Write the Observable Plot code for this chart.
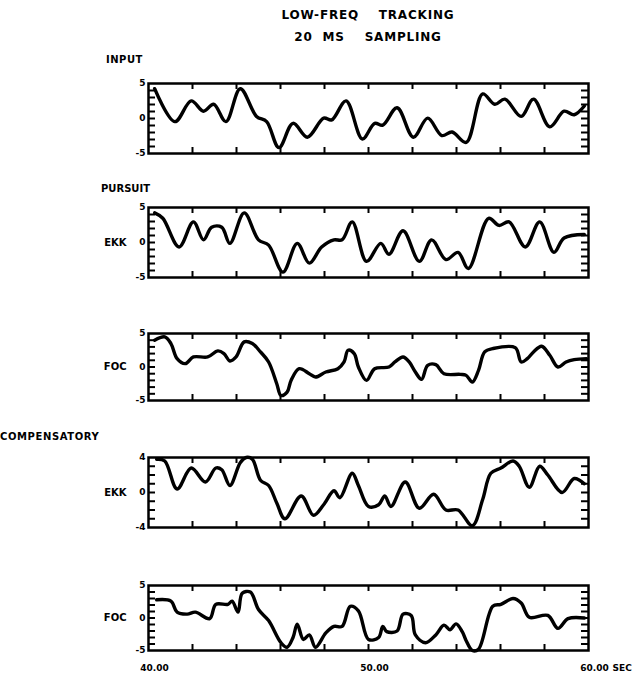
<!DOCTYPE html>
<html><head><meta charset="utf-8">
<script src="https://cdn.jsdelivr.net/npm/d3@7"></script>
<script src="https://cdn.jsdelivr.net/npm/@observablehq/plot@0.6"></script>
<style>
body{margin:0;background:#fff;}
#wrap{position:relative;width:636px;height:679px;font-family:"DejaVu Sans",sans-serif;font-weight:bold;color:#000;}
.t{position:absolute;white-space:pre;line-height:1;}
.p{position:absolute;left:0;}
</style></head><body><div id="wrap"></div>
<script>
const titleLines = ["LOW-FREQ    TRACKING", "20  MS    SAMPLING"];
const groupLabels = ["INPUT", "PURSUIT", "COMPENSATORY"];
const panelLabels = ["", "EKK", "FOC", "EKK", "FOC"];
const yLimits = [5, 5, 5, 4, 5];
const xLabelTicks = [40, 50, 60];
const xInnerTicks = [42, 44, 46, 48, 50, 52, 54, 56, 58];
const xUnit = "SEC";

const inputSeries = [[40.28,4.26],[41.20,-0.45],[41.94,2.52],[42.50,1.04],[42.96,2.03],[43.52,-0.45],[44.17,4.26],[44.91,0.30],[45.37,-0.45],[45.93,-4.16],[46.57,-0.69],[47.22,-2.67],[47.96,0.05],[48.33,-0.20],[48.98,2.52],[49.72,-2.92],[50.28,-0.69],[50.65,-0.94],[51.30,1.53],[52.04,-2.67],[52.69,0.05],[53.33,-2.43],[53.80,-1.93],[54.44,-3.42],[55.19,3.51],[55.74,2.03],[56.20,2.77],[56.94,0.30],[57.50,2.77],[58.24,-1.19],[58.89,1.04],[59.35,0.54],[59.81,1.78]];

const pursuitErr = [[40.28,4.23],[40.65,3.46],[41.39,-0.64],[42.04,2.95],[42.50,0.38],[42.87,2.18],[43.33,2.18],[43.70,-0.13],[44.35,4.23],[45.00,0.38],[45.46,-0.38],[46.11,-4.23],[46.76,-0.13],[47.31,-2.95],[47.87,-0.64],[48.43,0.38],[48.80,0.38],[49.26,2.95],[49.91,-2.69],[50.56,-0.13],[50.93,-1.67],[51.57,1.67],[52.31,-2.69],[52.87,0.38],[53.52,-2.44],[54.07,-1.41],[54.54,-3.72],[55.46,3.46],[55.93,2.44],[56.39,2.95],[57.13,-0.64],[57.78,2.95],[58.43,-1.41],[58.89,0.64],[59.81,1.15]];

const pursuitFoc = [[40.28,4.0],[40.74,4.5],[41.02,3.5],[41.30,1.25],[41.67,0.5],[42.04,1.5],[42.69,1.5],[43.15,2.4],[43.43,2.0],[43.70,0.9],[43.98,1.5],[44.35,3.75],[44.72,3.5],[45.09,2.25],[45.46,0.75],[45.83,-2.5],[46.02,-4.25],[46.30,-3.75],[46.48,-2.0],[46.85,-0.25],[47.31,-1.0],[47.59,-1.5],[48.06,-0.75],[48.61,-0.25],[48.89,0.75],[49.07,2.5],[49.35,2.0],[49.54,0.0],[49.91,-2.0],[50.28,-0.25],[50.93,0.0],[51.20,0.75],[51.57,1.5],[51.85,0.75],[52.13,-0.75],[52.41,-1.85],[52.69,0.25],[53.06,0.35],[53.43,-1.0],[54.17,-1.1],[54.44,-1.25],[54.72,-2.25],[55.0,-0.5],[55.28,2.25],[55.65,2.75],[56.67,2.9],[56.94,0.75],[57.22,1.25],[57.50,2.25],[57.87,3.1],[58.24,1.75],[58.61,0.0],[58.98,0.75],[59.35,1.1],[59.91,1.25]];

const compErr = [[40.37,3.8],[40.74,3.6],[41.30,0.4],[41.94,2.8],[42.59,1.2],[43.06,2.8],[43.33,2.6],[43.70,0.8],[44.17,3.4],[44.44,4.0],[44.72,3.8],[45.09,1.4],[45.46,0.8],[45.83,-1.2],[46.20,-3.0],[46.94,-0.4],[47.50,-2.6],[47.96,-1.4],[48.43,0.2],[48.70,-0.6],[49.26,2.2],[49.54,0.8],[50.0,-1.6],[50.46,-1.4],[50.74,-0.4],[51.02,-1.6],[51.67,1.2],[52.31,-1.8],[52.96,-0.2],[53.52,-2.0],[54.07,-2.0],[54.72,-3.8],[55.19,-0.8],[55.56,2.2],[56.02,2.8],[56.57,3.6],[56.85,3.0],[57.31,0.6],[57.78,3.0],[58.15,2.0],[58.80,0.0],[59.35,1.6],[59.81,1.0]];

const compFoc = [[40.37,2.8],[41.02,2.6],[41.30,0.9],[41.76,0.6],[42.13,0.9],[42.78,-0.1],[43.06,2.1],[43.61,2.1],[43.80,2.6],[44.07,0.9],[44.26,3.8],[44.63,4.0],[45.0,1.3],[45.46,-0.4],[46.02,-3.8],[46.30,-4.5],[46.57,-3.0],[46.76,-0.95],[47.04,-3.3],[47.31,-2.6],[47.59,-4.5],[48.06,-2.3],[48.43,-1.3],[48.80,-1.3],[49.17,1.8],[49.54,1.1],[50.0,-3.3],[50.46,-3.0],[50.65,-1.3],[50.83,-2.1],[51.30,-2.0],[51.57,0.6],[51.94,0.4],[52.13,-2.6],[52.59,-3.8],[53.06,-2.6],[53.43,-1.1],[53.70,-1.8],[53.98,-0.9],[54.26,-2.1],[54.44,-3.5],[54.72,-5.0],[55.0,-4.8],[55.65,1.8],[56.02,2.1],[56.57,3.0],[56.94,2.3],[57.31,0.1],[58.15,0.4],[58.61,-1.6],[59.07,-0.1],[59.81,0.0]];

const allSeries = [inputSeries, pursuitErr, pursuitFoc, compErr, compFoc];
// layout: frame top (px) and frame height for each panel
const frameTops = [83, 207, 333, 457, 585];
const frameHeights = [70, 70, 67, 70, 65];

const wrap = document.getElementById("wrap");
function addText(txt, left, top, size, center, spacing) {
  const d = document.createElement("div");
  d.className = "t";
  d.textContent = txt;
  d.style.fontSize = size + "px";
  d.style.top = top + "px";
  d.style.letterSpacing = (spacing || 0) + "px";
  d.style.left = left + "px";
  if (center) d.style.transform = "translateX(-50%)";
  wrap.appendChild(d);
}
addText(titleLines[0], 368, 9, 12, true, 0.8);
addText(titleLines[1], 368, 31, 12, true, 0.8);
addText(groupLabels[0], 106, 55, 10, false, 0.5);
addText(groupLabels[1], 101, 184, 10, false, 0);
addText(groupLabels[2], 0, 432, 10, false, 0.6);

const W = 636, ML = 148, MR = 48;
const innerW = W - ML - MR;
allSeries.forEach((series, i) => {
  const last = i === allSeries.length - 1;
  const mt = 10, mb = last ? 30 : 10;
  const fh = frameHeights[i];
  const yM = yLimits[i];
  const minorY = d3.range(-yM + 1, yM);
  const marks = [
    Plot.tickX(xInnerTicks, {x: d => d, insetBottom: fh - 6, strokeWidth: 2}),
    Plot.tickX(xInnerTicks, {x: d => d, insetTop: fh - 6, strokeWidth: 2}),
    Plot.tickY(minorY, {y: d => d, insetRight: innerW - 7, strokeWidth: 2}),
    Plot.tickY(minorY, {y: d => d, insetLeft: innerW - 7, strokeWidth: 2}),
    Plot.frame({strokeWidth: 2.5}),
    Plot.axisY([-yM, 0, yM], {tickSize: 0, tickPadding: 3, fontSize: 9, fontWeight: "bold", label: null, tickFormat: d => String(d)}),
    Plot.line(series, {x: d => d[0], y: d => d[1], curve: "catmull-rom", strokeWidth: 3.4, strokeLinejoin: "round", strokeLinecap: "round"})
  ];
  if (panelLabels[i]) marks.push(Plot.text([panelLabels[i]], {frameAnchor: "left", dx: -22, textAnchor: "end", fontSize: 10, fontWeight: "bold"}));
  if (last) {
    marks.push(Plot.text(xLabelTicks, {x: d => d, frameAnchor: "bottom", dy: 20, dx: 6, text: d => d.toFixed(2), fontSize: 9, fontWeight: "bold"}));
    marks.push(Plot.text([xUnit], {frameAnchor: "bottom-right", dx: 24, dy: 20, textAnchor: "start", fontSize: 9, fontWeight: "bold"}));
  }
  const chart = Plot.plot({
    width: W, height: fh + mt + mb,
    marginLeft: ML, marginRight: MR, marginTop: mt, marginBottom: mb,
    x: {domain: [40, 60], axis: null},
    y: {domain: [-yM, yM]},
    style: {fontFamily: "DejaVu Sans, sans-serif", background: "transparent", overflow: "visible"},
    marks
  });
  chart.classList.add("p");
  chart.style.top = (frameTops[i] - mt) + "px";
  wrap.appendChild(chart);
});
</script></body></html>
